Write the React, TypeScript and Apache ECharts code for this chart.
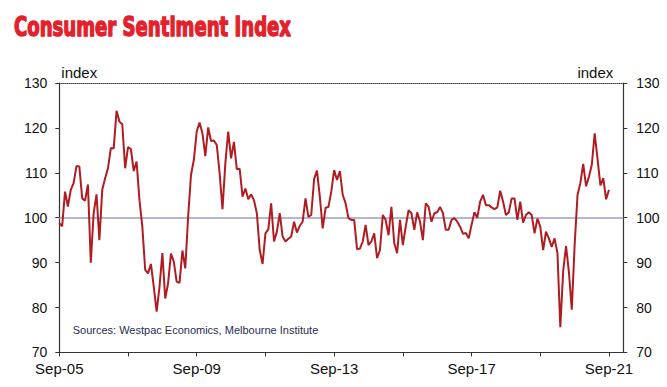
import React, { useEffect, useRef } from "react";
import * as echarts from "echarts";

// Monthly index values, Sep-05 .. Sep-21
const sentiment: number[] = [
  98.8, 98.1, 105.8, 102.5, 106.2, 107.7, 111.5, 111.4, 104.3, 103.8,
  107.4, 90.0, 101.0, 105.2, 95.0, 106.2, 108.8, 111.0, 115.5, 115.4,
  123.8, 121.4, 120.8, 111.0, 115.7, 115.3, 110.4, 112.5, 103.9, 98.0,
  88.4, 87.6, 89.7, 84.6, 79.1, 84.6, 92.1, 82.0, 85.4, 92.0,
  90.2, 85.7, 85.5, 92.7, 88.7, 100.2, 109.5, 112.9, 119.2, 121.2,
  118.8, 113.7, 120.1, 117.1, 117.2, 116.2, 109.9, 101.9, 112.1, 119.2,
  113.2, 116.9, 110.8, 110.9, 104.7, 106.5, 104.1, 105.2, 103.9, 101.0,
  92.8, 89.7, 96.5, 97.4, 103.2, 94.7, 96.9, 101.0, 95.8, 94.7,
  95.3, 95.8, 99.1, 96.7, 98.2, 99.1, 104.3, 100.2, 100.6, 108.6,
  110.5, 104.7, 97.6, 102.2, 102.4, 105.8, 110.6, 108.4, 110.4, 105.1,
  103.2, 99.9, 99.5, 99.5, 93.0, 93.1, 94.7, 98.4, 93.9, 94.7,
  96.5, 91.0, 92.8, 100.6, 99.5, 96.1, 102.4, 94.3, 92.1, 99.5,
  93.9, 98.0, 101.7, 101.0, 97.3, 101.2, 99.1, 95.0, 103.2, 102.4,
  99.1, 101.0, 101.2, 102.4, 101.0, 97.3, 97.3, 99.5, 99.9, 99.1,
  98.0, 96.4, 96.6, 95.4, 98.4, 101.2, 100.0, 103.6, 105.1, 102.8,
  102.8, 102.3, 101.9, 102.3, 106.0, 103.6, 100.6, 101.2, 104.3, 104.3,
  99.5, 103.6, 98.9, 100.6, 101.2, 100.6, 96.5, 99.8, 98.0, 92.8,
  96.9, 95.4, 93.5, 95.4, 92.1, 75.6, 88.1, 93.7, 87.9, 79.5,
  93.8, 105.0, 107.7, 112.0, 107.0, 109.1, 111.8, 118.8, 113.1, 107.2,
  108.8, 104.1, 106.2,
];

const monthNames: string[] = ["Jan", "Feb", "Mar", "Apr", "May", "Jun", "Jul", "Aug", "Sep", "Oct", "Nov", "Dec"];
const startYear = 2005;
const startMonth = 8; // Sep
const axisMonths = 198; // axis runs a few months past Sep-21

const categories: string[] = Array.from({ length: axisMonths }, (_, i) => {
  const m = (startMonth + i) % 12;
  const y = startYear + Math.floor((startMonth + i) / 12);
  return `${monthNames[m]}-${String(y % 100).padStart(2, "0")}`;
});

const yTicks = { min: 70, max: 130, interval: 10 };
const referenceLevel = 100;

const titleText = "Consumer Sentiment Index";
const sourceText = "Sources: Westpac Economics, Melbourne Institute";
const axisName = "index";

export default function App() {
  const ref = useRef<HTMLDivElement>(null);
  useEffect(() => {
    if (!ref.current) return;
    const chart = echarts.init(ref.current, null, { renderer: "svg" });
    const font = "Liberation Sans, Arial, sans-serif";
    const axisColor = "#333333";
    chart.setOption({
      animation: false,
      backgroundColor: "#ffffff",
      grid: { left: 59.3, right: 43.7, top: 83, bottom: 34.6, containLabel: false },
      graphic: [
        {
          type: "text",
          x: 14,
          y: 26.5,
          scaleX: 0.745,
          style: {
            text: titleText,
            font: "bold 27px 'Liberation Sans Narrow', 'DejaVu Sans Condensed', sans-serif",
            fill: "#e3202b",
            stroke: "#e3202b",
            lineWidth: 1.4,
            verticalAlign: "middle",
            align: "left",
          },
        },
        {
          type: "text",
          x: 72.7,
          y: 329.5,
          style: {
            text: sourceText,
            font: "11px 'Liberation Sans', Arial, sans-serif",
            fill: "#1f2d4f",
            verticalAlign: "middle",
            align: "left",
          },
        },
      ],
      xAxis: [
        {
          type: "category",
          data: categories,
          boundaryGap: false,
          position: "bottom",
          axisLine: { show: true, lineStyle: { color: axisColor, width: 1.2 } },
          axisTick: {
            show: true,
            length: 4,
            interval: (i: number) => i % 24 === 0,
            lineStyle: { color: axisColor },
          },
          axisLabel: {
            interval: (i: number) => i % 48 === 0,
            color: "#111111",
            fontFamily: font,
            fontSize: 15,
            margin: 9,
          },
          splitLine: { show: false },
        },
        {
          type: "category",
          data: categories,
          boundaryGap: false,
          position: "top",
          axisLine: { show: true, lineStyle: { color: "#444444", width: 1, type: "dotted" } },
          axisTick: { show: false },
          axisLabel: { show: false },
          splitLine: { show: false },
        },
      ],
      yAxis: [
        {
          type: "value",
          position: "left",
          ...yTicks,
          name: axisName,
          nameLocation: "end",
          nameGap: 3,
          nameTextStyle: {
            color: "#111111",
            fontFamily: font,
            fontSize: 15,
            align: "left",
            verticalAlign: "bottom",
            padding: [0, 0, 0, 2],
          },
          axisLine: { show: true, lineStyle: { color: axisColor, width: 1.2 } },
          axisTick: { show: true, length: 4, lineStyle: { color: axisColor } },
          axisLabel: { color: "#111111", fontFamily: font, fontSize: 14, margin: 12 },
          splitLine: { show: false },
        },
        {
          type: "value",
          position: "right",
          ...yTicks,
          name: axisName,
          nameLocation: "end",
          nameGap: 3,
          nameTextStyle: {
            color: "#111111",
            fontFamily: font,
            fontSize: 15,
            align: "right",
            verticalAlign: "bottom",
            padding: [0, 10, 0, 0],
          },
          axisLine: { show: true, lineStyle: { color: axisColor, width: 1.2 } },
          axisTick: { show: true, length: 4, lineStyle: { color: axisColor } },
          axisLabel: { color: "#111111", fontFamily: font, fontSize: 14, margin: 13 },
          splitLine: { show: false },
        },
      ],
      series: [
        {
          type: "line",
          xAxisIndex: 0,
          yAxisIndex: 0,
          data: sentiment,
          showSymbol: false,
          symbol: "none",
          lineStyle: { color: "#b01c22", width: 2 },
          z: 3,
          markLine: {
            silent: true,
            symbol: ["none", "none"],
            label: { show: false },
            lineStyle: { color: "#a09cbc", width: 1.5, type: "solid" },
            data: [{ yAxis: referenceLevel }],
            z: 1,
          },
        },
      ],
    });
    return () => chart.dispose();
  }, []);
  return (
    <div
      ref={ref}
      style={{ position: "absolute", left: 0, top: 0, width: 667, height: 387 }}
    />
  );
}
